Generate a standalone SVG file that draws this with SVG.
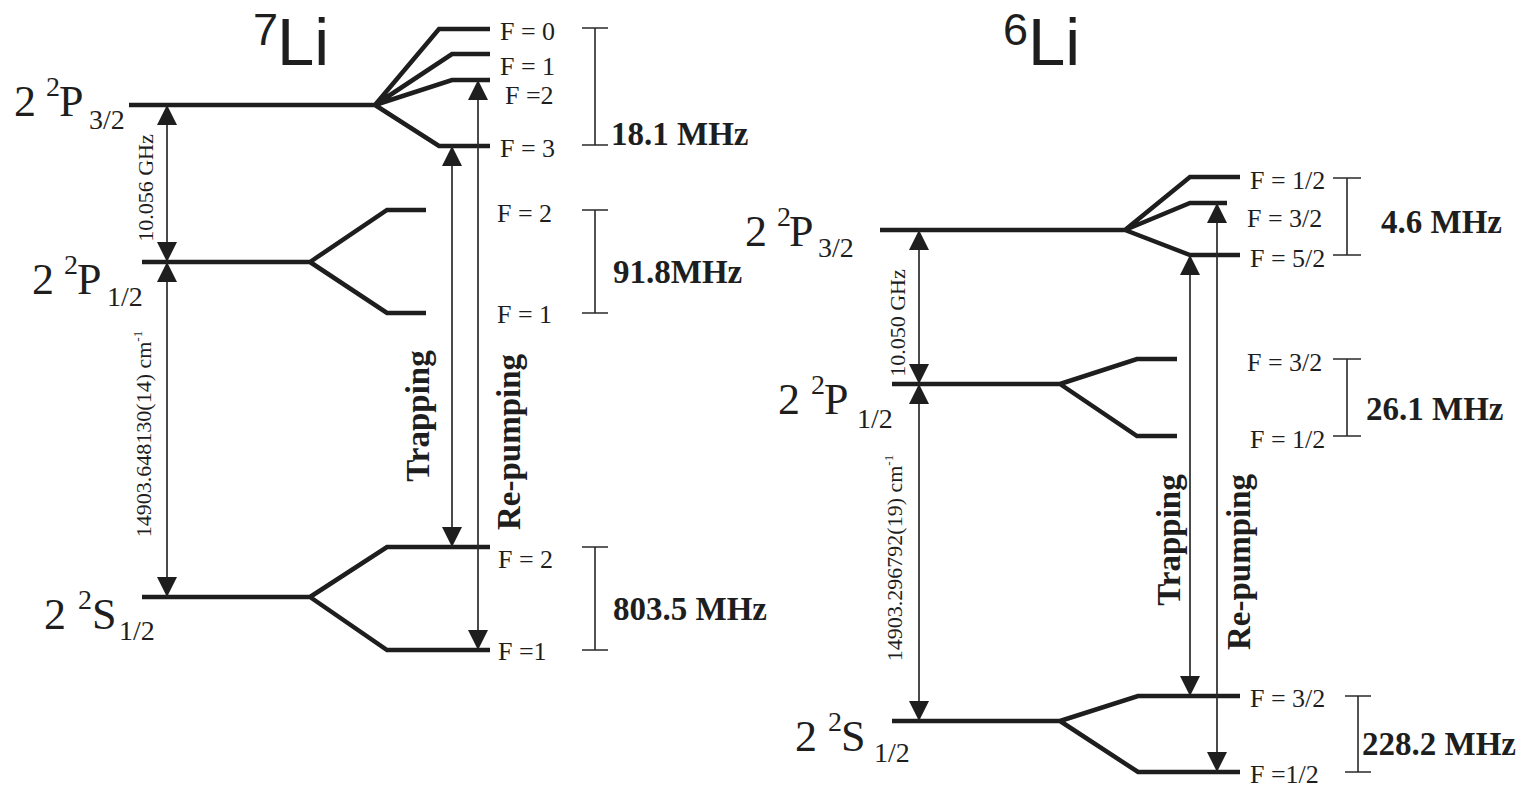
<svg xmlns="http://www.w3.org/2000/svg" width="1525" height="788" viewBox="0 0 1525 788">
<style>
.lv{fill:none;stroke:#1e1e1e;stroke-width:4.5}
.br{fill:none;stroke:#2a2a2a;stroke-width:1.6}
.ar{fill:none;stroke:#2a2a2a;stroke-width:1.7;marker-start:url(#ah);marker-end:url(#ah)}
text{fill:#1e1e1e;font-family:"Liberation Serif","Times New Roman",serif}
.big{font-size:44px}
.sm{font-size:28px}
.f{font-size:26px}
.mhz{font-size:33px;font-weight:bold}
.rl{font-size:22px;text-anchor:middle}
.rb{font-size:33px;font-weight:bold;text-anchor:middle}
.ttl{font-family:"Liberation Sans",Arial,sans-serif}
</style>
<defs>
<marker id="ah" markerUnits="userSpaceOnUse" markerWidth="20" markerHeight="20" viewBox="0 0 18 18" refX="18" refY="9" orient="auto-start-reverse">
<path d="M0,0 L18,9 L0,18 z" fill="#1e1e1e"/>
</marker>
</defs>

<g id="title7"><text class="ttl"><tspan x="253" y="45" font-size="45">7</tspan><tspan x="277" y="65" font-size="67">Li</tspan></text></g>
<g id="title6"><text class="ttl"><tspan x="1003" y="45" font-size="45">6</tspan><tspan x="1028" y="65" font-size="67">Li</tspan></text></g>

<!-- 7Li levels -->
<g id="li7-P32">
<path class="lv" d="M129,105 H375 M375,105 L439,29 H490 M375,105 L452,54 H490 M375,105 L452,80 H490 M375,105 L439,146 H490"/>
<text><tspan class="big" x="14" y="116">2</tspan><tspan class="sm" x="46" y="96">2</tspan><tspan class="big" x="59" y="116">P</tspan><tspan class="sm" x="89" y="129">3/2</tspan></text>
<text class="f" x="500" y="40">F = 0</text>
<text class="f" x="500" y="75">F = 1</text>
<text class="f" x="505" y="104">F =2</text>
<text class="f" x="500" y="157">F = 3</text>
<path class="br" d="M595,28 V145 M582,28 H608 M582,145 H608"/>
<text class="mhz" x="611" y="145">18.1 MHz</text>
</g>

<g id="li7-P12">
<path class="lv" d="M142,262 H310 M310,262 L387,210 H426 M310,262 L387,313 H426"/>
<text><tspan class="big" x="32" y="294">2</tspan><tspan class="sm" x="64" y="274">2</tspan><tspan class="big" x="77" y="294">P</tspan><tspan class="sm" x="107" y="306">1/2</tspan></text>
<text class="f" x="497" y="222">F = 2</text>
<text class="f" x="497" y="323">F = 1</text>
<path class="br" d="M595,210 V313 M582,210 H608 M582,313 H608"/>
<text class="mhz" x="613" y="283">91.8MHz</text>
</g>

<g id="li7-S12">
<path class="lv" d="M142,597 H310 M310,597 L387,547 H490 M310,597 L387,650 H490"/>
<text><tspan class="big" x="44" y="629">2</tspan><tspan class="sm" x="78" y="609">2</tspan><tspan class="big" x="92" y="629">S</tspan><tspan class="sm" x="119" y="640">1/2</tspan></text>
<text class="f" x="498" y="568">F = 2</text>
<text class="f" x="498" y="660">F =1</text>
<path class="br" d="M595,547 V650 M582,547 H608 M582,650 H608"/>
<text class="mhz" x="613" y="620">803.5 MHz</text>
</g>

<!-- 6Li levels -->
<g id="li6-P32">
<path class="lv" d="M880,230 H1125 M1125,230 L1190,177 H1240 M1125,230 L1190,203 H1227 M1125,230 L1190,255 H1240"/>
<text><tspan class="big" x="745" y="246">2</tspan><tspan class="sm" x="777" y="226">2</tspan><tspan class="big" x="789" y="246">P</tspan><tspan class="sm" x="818" y="257">3/2</tspan></text>
<text class="f" x="1250" y="189">F = 1/2</text>
<text class="f" x="1247" y="227">F = 3/2</text>
<text class="f" x="1250" y="267">F = 5/2</text>
<path class="br" d="M1347,178 V255 M1333,178 H1361 M1333,255 H1361"/>
<text class="mhz" x="1381" y="233">4.6 MHz</text>
</g>

<g id="li6-P12">
<path class="lv" d="M892,384 H1060 M1060,384 L1137,359 H1177 M1060,384 L1137,436 H1177"/>
<text><tspan class="big" x="778" y="414">2</tspan><tspan class="sm" x="811" y="394">2</tspan><tspan class="big" x="824" y="414">P</tspan><tspan class="sm" x="857" y="428">1/2</tspan></text>
<text class="f" x="1247" y="371">F = 3/2</text>
<text class="f" x="1250" y="448">F = 1/2</text>
<path class="br" d="M1347,359 V436 M1333,359 H1361 M1333,436 H1361"/>
<text class="mhz" x="1366" y="420">26.1 MHz</text>
</g>

<g id="li6-S12">
<path class="lv" d="M892,721 H1060 M1060,721 L1138,696 H1240 M1060,721 L1138,772 H1240"/>
<text><tspan class="big" x="795" y="751">2</tspan><tspan class="sm" x="828" y="731">2</tspan><tspan class="big" x="841" y="751">S</tspan><tspan class="sm" x="874" y="762">1/2</tspan></text>
<text class="f" x="1250" y="707">F = 3/2</text>
<text class="f" x="1250" y="783">F =1/2</text>
<path class="br" d="M1358,696 V772 M1345,696 H1371 M1345,772 H1371"/>
<text class="mhz" x="1362" y="755">228.2 MHz</text>
</g>

<!-- connectors -->
<g id="connectors">
<line class="ar" x1="167" y1="105" x2="167" y2="262"/>
<line class="ar" x1="167" y1="262" x2="167" y2="597"/>
<line class="ar" x1="452" y1="146" x2="452" y2="547"/>
<line class="ar" x1="478" y1="80" x2="478" y2="650"/>
<line class="ar" x1="919" y1="230" x2="919" y2="384"/>
<line class="ar" x1="919" y1="384" x2="919" y2="721"/>
<line class="ar" x1="1190" y1="255" x2="1190" y2="696"/>
<line class="ar" x1="1217" y1="203" x2="1217" y2="772"/>
</g>

<g id="connector-labels">
<text class="rl" transform="translate(153,188) rotate(-90)">10.056 GHz</text>
<text class="rl" transform="translate(151,434) rotate(-90)">14903.648130(14) cm<tspan font-size="13" dy="-9">-1</tspan></text>
<text class="rb" transform="translate(429,416) rotate(-90)">Trapping</text>
<text class="rb" transform="translate(520,442) rotate(-90)">Re-pumping</text>
<text class="rl" transform="translate(905,323) rotate(-90)">10.050 GHz</text>
<text class="rl" transform="translate(902,558) rotate(-90)">14903.296792(19) cm<tspan font-size="13" dy="-9">-1</tspan></text>
<text class="rb" transform="translate(1180,540) rotate(-90)">Trapping</text>
<text class="rb" transform="translate(1250,562) rotate(-90)">Re-pumping</text>
</g>
</svg>
